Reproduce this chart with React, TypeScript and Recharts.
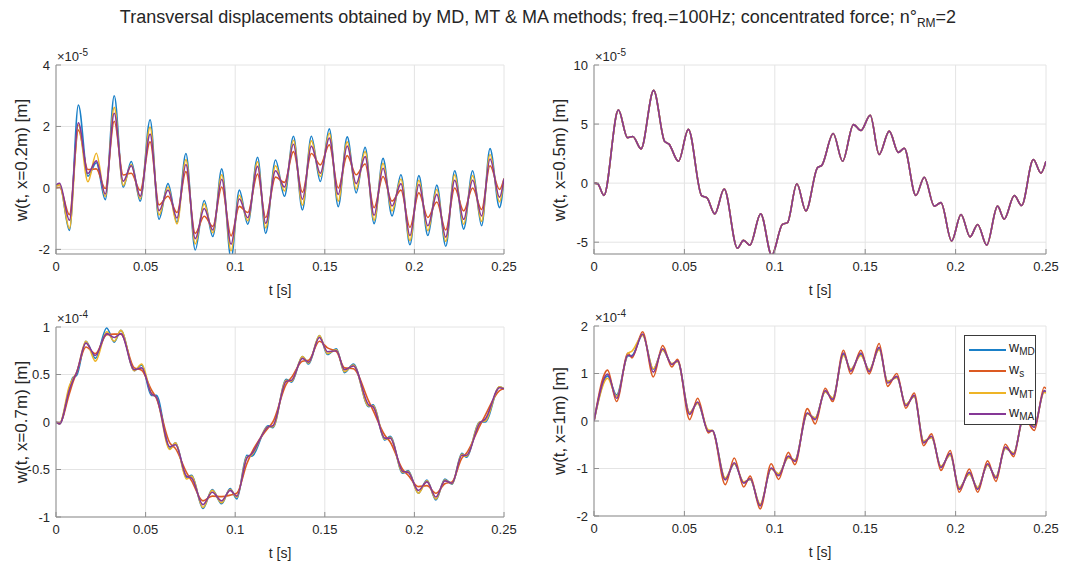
import React from 'react';
import { LineChart, Line, XAxis, YAxis, CartesianGrid, Legend } from 'recharts';

// ---------- tick labels ----------
const tTicks = [0, 0.05, 0.1, 0.15, 0.2, 0.25];
const yTicks1 = [-2, 0, 2, 4];
const yTicks2 = [-5, 0, 5, 10];
const yTicks3 = [-1, -0.5, 0, 0.5, 1];
const yTicks4 = [-2, -1, 0, 1, 2];

const seriesNames = ['MD', 's', 'MT', 'MA'];

// ---------- subplot 1 : x = 0.2 m (values x1e-5 m) ----------
const t1 = [0, 0.002, 0.0075, 0.0125, 0.0178, 0.0225, 0.0275, 0.0325, 0.0375, 0.042, 0.047, 0.0525, 0.0575, 0.0625, 0.0675, 0.0725, 0.0777, 0.0827, 0.0875, 0.0925, 0.0977, 0.1023, 0.107, 0.1125, 0.117, 0.1225, 0.1275, 0.1325, 0.1375, 0.1425, 0.1475, 0.1525, 0.1575, 0.1625, 0.1675, 0.1725, 0.1775, 0.1825, 0.1875, 0.1925, 0.1975, 0.2025, 0.2075, 0.2125, 0.2175, 0.2225, 0.2275, 0.2325, 0.2375, 0.2422, 0.2475, 0.25];
const md1 = [0.05, 0.12, -1.38, 2.7, 0.38, 0.82, -0.38, 3.0, 0.02, 0.86, -0.43, 2.22, -1.02, 0.14, -1.12, 1.12, -2.02, -0.41, -1.58, 0.62, -2.3, -0.07, -1.18, 1.0, -1.48, 0.91, -0.27, 1.68, -0.72, 1.68, 0.21, 1.92, -0.61, 1.66, -0.16, 1.32, -1.16, 0.96, -0.91, 0.43, -1.85, 0.4, -1.55, 0.09, -1.9, 0.56, -1.34, 0.56, -1.23, 1.28, -0.64, 0.3];
const s1 = [0.0, 0.02, -0.87, 1.88, 0.6, 0.62, -0.02, 2.17, 0.42, 0.48, -0.08, 1.5, -0.55, -0.27, -0.8, 0.53, -1.48, -0.92, -1.25, 0.03, -1.56, -0.6, -0.8, 0.45, -0.96, 0.35, 0.18, 1.18, -0.14, 1.12, 0.75, 1.4, 0.0, 1.05, 0.43, 0.78, -0.64, 0.37, -0.43, -0.07, -1.28, -0.16, -0.96, -0.46, -1.37, 0.0, -0.75, 0.0, -0.7, 0.72, -0.05, 0.3];
const mt1 = [0.05, 0.1, -1.32, 2.05, 0.2, 1.13, -0.28, 2.62, 0.08, 0.76, -0.35, 1.98, -0.88, 0.03, -1.17, 0.92, -1.82, -0.52, -1.46, 0.43, -2.05, -0.24, -1.07, 0.85, -1.3, 0.72, -0.1, 1.55, -0.56, 1.53, 0.37, 1.78, -0.43, 1.5, -0.03, 1.18, -1.05, 0.8, -0.75, 0.29, -1.71, 0.25, -1.39, -0.05, -1.74, 0.43, -1.18, 0.4, -1.09, 1.09, -0.45, 0.3];
const ma1 = [0.1, 0.15, -1.05, 2.12, 0.47, 0.88, -0.2, 2.43, 0.22, 0.72, -0.27, 1.75, -0.74, -0.07, -0.98, 0.76, -1.65, -0.67, -1.37, 0.28, -1.83, -0.36, -0.97, 0.7, -1.15, 0.56, 0.03, 1.42, -0.37, 1.36, 0.48, 1.62, -0.21, 1.36, 0.14, 1.02, -0.89, 0.64, -0.59, 0.14, -1.55, 0.11, -1.23, -0.21, -1.6, 0.25, -1.02, 0.25, -0.91, 0.94, -0.3, 0.3];

// ---------- subplot 2 : x = 0.5 m (values x1e-5 m), the four methods coincide ----------
const t2 = [0, 0.002, 0.0055, 0.0135, 0.0185, 0.0215, 0.026, 0.033, 0.039, 0.0415, 0.0467, 0.0522, 0.0595, 0.0625, 0.0668, 0.072, 0.0793, 0.0827, 0.0862, 0.0922, 0.0983, 0.1042, 0.107, 0.1122, 0.1172, 0.1236, 0.126, 0.1323, 0.1375, 0.1435, 0.1476, 0.1528, 0.1577, 0.1633, 0.1683, 0.1716, 0.178, 0.1827, 0.1882, 0.1919, 0.1978, 0.203, 0.208, 0.2122, 0.2172, 0.2232, 0.2269, 0.2325, 0.2365, 0.243, 0.2472, 0.25];
const w2 = [0, -0.05, -1.04, 6.2, 3.85, 3.95, 2.9, 7.85, 3.55, 3.3, 1.85, 4.55, -1.05, -1.25, -2.6, -0.5, -5.5, -4.85, -5.25, -2.6, -6.1, -3.5, -3.35, -0.05, -2.35, 1.3, 1.5, 4.2, 1.85, 4.95, 4.45, 5.75, 2.42, 4.4, 2.6, 2.95, -1.05, 0.5, -1.95, -1.65, -4.9, -2.65, -4.55, -3.5, -5.25, -1.95, -3.05, -1.05, -1.9, 2.0, 0.85, 1.85];

// ---------- subplot 3 : x = 0.7 m (values x1e-4 m) ----------
const t3 = [0, 0.002, 0.0075, 0.0095, 0.0115, 0.0167, 0.022, 0.0283, 0.0325, 0.0362, 0.0437, 0.0478, 0.0532, 0.056, 0.0635, 0.0667, 0.0728, 0.0757, 0.082, 0.0872, 0.0924, 0.0972, 0.1009, 0.1065, 0.109, 0.1185, 0.121, 0.1285, 0.1315, 0.1375, 0.141, 0.147, 0.1515, 0.1565, 0.161, 0.166, 0.1745, 0.177, 0.1835, 0.1865, 0.1935, 0.1965, 0.2022, 0.207, 0.212, 0.217, 0.221, 0.2265, 0.229, 0.2365, 0.2395, 0.2475, 0.25];
const md3 = [0, -0.02, 0.36, 0.47, 0.49, 0.85, 0.67, 0.99, 0.84, 0.965, 0.54, 0.6, 0.28, 0.28, -0.28, -0.22, -0.58, -0.56, -0.91, -0.71, -0.86, -0.7, -0.81, -0.35, -0.36, -0.04, -0.06, 0.45, 0.42, 0.69, 0.61, 0.91, 0.71, 0.77, 0.52, 0.61, 0.16, 0.18, -0.19, -0.15, -0.54, -0.51, -0.75, -0.61, -0.82, -0.6, -0.655, -0.33, -0.37, 0.0, 0.0, 0.37, 0.35];
const s3 = [0, -0.01, 0.3, 0.42, 0.52, 0.79, 0.72, 0.92, 0.925, 0.925, 0.57, 0.545, 0.34, 0.25, -0.22, -0.28, -0.53, -0.62, -0.83, -0.78, -0.785, -0.77, -0.75, -0.44, -0.33, -0.06, 0.0, 0.4, 0.47, 0.64, 0.65, 0.85, 0.78, 0.74, 0.57, 0.56, 0.22, 0.12, -0.14, -0.21, -0.5, -0.56, -0.68, -0.67, -0.75, -0.65, -0.63, -0.38, -0.33, -0.04, 0.07, 0.33, 0.35];
const mt3 = [0, -0.02, 0.38, 0.46, 0.52, 0.85, 0.64, 0.95, 0.85, 0.965, 0.54, 0.61, 0.3, 0.26, -0.29, -0.22, -0.6, -0.57, -0.9, -0.72, -0.85, -0.71, -0.79, -0.37, -0.35, -0.05, -0.05, 0.44, 0.43, 0.69, 0.62, 0.91, 0.72, 0.76, 0.53, 0.6, 0.17, 0.17, -0.18, -0.16, -0.53, -0.52, -0.75, -0.62, -0.81, -0.61, -0.65, -0.34, -0.36, 0.0, 0.01, 0.37, 0.35];
const ma3 = [0, -0.02, 0.34, 0.44, 0.52, 0.83, 0.7, 0.93, 0.89, 0.93, 0.55, 0.57, 0.3, 0.26, -0.26, -0.24, -0.57, -0.59, -0.87, -0.74, -0.83, -0.72, -0.78, -0.38, -0.34, -0.05, -0.04, 0.43, 0.44, 0.67, 0.63, 0.89, 0.74, 0.75, 0.55, 0.59, 0.18, 0.16, -0.17, -0.17, -0.52, -0.53, -0.72, -0.63, -0.79, -0.62, -0.645, -0.35, -0.35, -0.01, 0.03, 0.36, 0.35];

// ---------- subplot 4 : x = 1 m (values x1e-4 m) ----------
const t4 = [0, 0.0075, 0.0125, 0.0188, 0.021, 0.0269, 0.0328, 0.038, 0.043, 0.0462, 0.0529, 0.0573, 0.0633, 0.0654, 0.0726, 0.0776, 0.0828, 0.0864, 0.0919, 0.098, 0.1021, 0.1075, 0.1111, 0.118, 0.1223, 0.1279, 0.132, 0.138, 0.142, 0.1476, 0.1522, 0.1577, 0.1624, 0.1675, 0.1725, 0.1771, 0.1823, 0.1867, 0.1919, 0.197, 0.202, 0.2076, 0.2122, 0.2177, 0.2223, 0.2275, 0.2321, 0.2375, 0.2435, 0.249, 0.25];
const md4 = [0, 0.95, 0.55, 1.37, 1.38, 1.81, 1.09, 1.5, 1.2, 1.26, 0.17, 0.38, -0.21, -0.2, -1.22, -0.9, -1.29, -1.23, -1.77, -1.0, -1.12, -0.76, -0.83, 0.16, 0.06, 0.62, 0.48, 1.4, 1.08, 1.4, 1.07, 1.52, 0.83, 0.92, 0.34, 0.52, -0.43, -0.34, -0.96, -0.71, -1.41, -1.11, -1.41, -0.92, -1.18, -0.57, -0.68, 0.05, -0.1, 0.62, 0.6];
const s4 = [0, 1.07, 0.41, 1.43, 1.33, 1.88, 0.93, 1.59, 1.14, 1.3, 0.03, 0.48, -0.25, -0.2, -1.34, -0.78, -1.39, -1.16, -1.85, -0.9, -1.23, -0.66, -0.92, 0.26, -0.06, 0.69, 0.41, 1.49, 0.99, 1.49, 0.99, 1.63, 0.73, 1.0, 0.27, 0.59, -0.52, -0.27, -1.04, -0.62, -1.5, -1.01, -1.5, -0.84, -1.27, -0.49, -0.75, 0.12, -0.2, 0.71, 0.68];
const mt4 = [0, 0.9, 0.52, 1.42, 1.47, 1.8, 1.1, 1.49, 1.21, 1.25, 0.18, 0.37, -0.19, -0.2, -1.2, -0.9, -1.28, -1.23, -1.75, -1.01, -1.11, -0.77, -0.82, 0.15, 0.07, 0.61, 0.49, 1.38, 1.09, 1.38, 1.08, 1.5, 0.84, 0.91, 0.35, 0.51, -0.42, -0.35, -0.95, -0.72, -1.4, -1.12, -1.4, -0.93, -1.17, -0.58, -0.67, 0.04, -0.09, 0.6, 0.59];
const ma4 = [0, 0.99, 0.48, 1.39, 1.36, 1.83, 1.03, 1.52, 1.19, 1.27, 0.14, 0.4, -0.22, -0.2, -1.24, -0.88, -1.31, -1.21, -1.79, -0.99, -1.15, -0.74, -0.85, 0.17, 0.03, 0.64, 0.45, 1.43, 1.05, 1.43, 1.04, 1.55, 0.8, 0.94, 0.32, 0.54, -0.46, -0.32, -0.98, -0.68, -1.44, -1.08, -1.44, -0.9, -1.2, -0.55, -0.7, 0.07, -0.13, 0.64, 0.62];

// ---------- styles ----------
const COLORS: Record<string, string> = { MD: '#1a80c8', s: '#dc5a22', MT: '#eeb426', MA: '#853896' };
const FONT = '"Liberation Sans", Arial, Helvetica, sans-serif';
const AXIS = '#8f8f8f';
const TEXT = '#262626';

function table(t: number[], md: number[], s: number[], mt: number[], ma: number[]) {
  return t.map((tt, i) => ({ t: tt, MD: md[i], s: s[i], MT: mt[i], MA: ma[i] }));
}

const data1 = table(t1, md1, s1, mt1, ma1);
const data2 = table(t2, w2, w2, w2, w2);
const data3 = table(t3, md3, s3, mt3, ma3);
const data4 = table(t4, md4, s4, mt4, ma4);

const LegendBox = (props: any) => {
  const payload = [...(props.payload || [])].sort(
    (a: any, b: any) => seriesNames.indexOf(a.value) - seriesNames.indexOf(b.value)
  );
  return (
    <div style={{ width: 72, height: 90, boxSizing: 'border-box', border: '1px solid #3a3a3a', background: '#fff', paddingTop: 3, fontFamily: FONT }}>
      {payload.map((p: any) => (
        <div key={p.value} style={{ height: 21.5, display: 'flex', alignItems: 'center' }}>
          <svg width={44} height={10} style={{ display: 'block' }}>
            <line x1={4} x2={41} y1={5} y2={5} stroke={p.color} strokeWidth={2} />
          </svg>
          <span style={{ fontSize: 14, color: TEXT, lineHeight: '14px' }}>
            w<sub style={{ fontSize: 10, verticalAlign: -3 }}>{p.value}</sub>
          </span>
        </div>
      ))}
    </div>
  );
};

type PanelProps = {
  rect: [number, number, number, number];
  data: any[];
  domain: [number, number];
  yTicks: number[];
  ylabel: string;
  exp: string;
  legend?: boolean;
};

function Panel({ rect, data, domain, yTicks, ylabel, exp, legend }: PanelProps) {
  const [x0, y0, x1, y1] = rect;
  const W = x1 - x0 + 56 + 30;
  const H = y1 - y0 + 25 + 50;
  const tickStyle = { fill: TEXT, fontSize: 13, fontFamily: FONT };
  return (
    <>
      <div style={{ position: 'absolute', left: x0 - 56, top: y0 - 25 }}>
        <LineChart width={W} height={H} data={data} margin={{ top: 25, right: 30, bottom: 20, left: 0 }}>
          <CartesianGrid stroke="#e4e4e4" />
          <XAxis dataKey="t" type="number" domain={[0, 0.25]} ticks={tTicks} allowDataOverflow interval={0}
            height={30} tickSize={-5} tickMargin={13} stroke={AXIS} tick={tickStyle} />
          <XAxis xAxisId="top" orientation="top" dataKey="t" type="number" domain={[0, 0.25]} ticks={tTicks}
            allowDataOverflow interval={0} height={0} tickSize={-5} tick={false} stroke={AXIS} />
          <YAxis type="number" domain={domain} ticks={yTicks} allowDataOverflow interval={0}
            width={56} tickSize={-5} tickMargin={11} stroke={AXIS} tick={tickStyle} />
          <YAxis yAxisId="right" orientation="right" type="number" domain={domain} ticks={yTicks}
            allowDataOverflow interval={0} width={0} tickSize={-5} tick={false} stroke={AXIS} />
          {seriesNames.map((k) => (
            <Line key={k} dataKey={k} name={k} type="monotone" stroke={COLORS[k]} strokeWidth={1.6}
              dot={false} activeDot={false} isAnimationActive={false} />
          ))}
          {legend && (
            <Legend layout="vertical" align="center" verticalAlign="middle" content={LegendBox}
              wrapperStyle={{ left: W - 30 - 10 - 72, top: 25 + 9, width: 72, height: 90 }} />
          )}
        </LineChart>
      </div>
      <div style={{ position: 'absolute', left: x0 - 34, top: (y0 + y1) / 2, transform: 'translate(-50%, -50%) rotate(-90deg)', whiteSpace: 'nowrap', fontSize: 17, color: TEXT }}>
        {ylabel}
      </div>
      <div style={{ position: 'absolute', left: (x0 + x1) / 2, top: y1 + 36, transform: 'translate(-50%, -50%)', whiteSpace: 'nowrap', fontSize: 14, color: TEXT }}>
        t [s]
      </div>
      <div style={{ position: 'absolute', left: x0 + 1, top: y0 - 20, whiteSpace: 'nowrap', fontSize: 13, color: TEXT, lineHeight: '15px' }}>
        ×10<sup style={{ fontSize: 10, verticalAlign: 5 }}>{exp}</sup>
      </div>
    </>
  );
}

export default function App() {
  return (
    <div style={{ position: 'absolute', left: 0, top: 0, width: 1076, height: 564, background: '#fff', fontFamily: FONT, overflow: 'hidden' }}>
      <div style={{ position: 'absolute', left: 0, top: 6, width: 1076, textAlign: 'center', fontSize: 18, color: TEXT, lineHeight: '22px', whiteSpace: 'nowrap' }}>
        Transversal displacements obtained by MD, MT &amp; MA methods; freq.=100Hz; concentrated force; n°<sub style={{ fontSize: 12, verticalAlign: -4 }}>RM</sub>=2
      </div>
      <Panel rect={[56, 65, 504, 254]} data={data1} domain={[-2.15, 4]} yTicks={yTicks1} ylabel="w(t, x=0.2m) [m]" exp="-5" />
      <Panel rect={[594, 65, 1046, 254]} data={data2} domain={[-6, 10]} yTicks={yTicks2} ylabel="w(t, x=0.5m) [m]" exp="-5" />
      <Panel rect={[56, 327, 504, 517]} data={data3} domain={[-1, 1]} yTicks={yTicks3} ylabel="w(t, x=0.7m) [m]" exp="-4" />
      <Panel rect={[594, 326, 1046, 516]} data={data4} domain={[-2, 2]} yTicks={yTicks4} ylabel="w(t, x=1m) [m]" exp="-4" legend />
    </div>
  );
}
